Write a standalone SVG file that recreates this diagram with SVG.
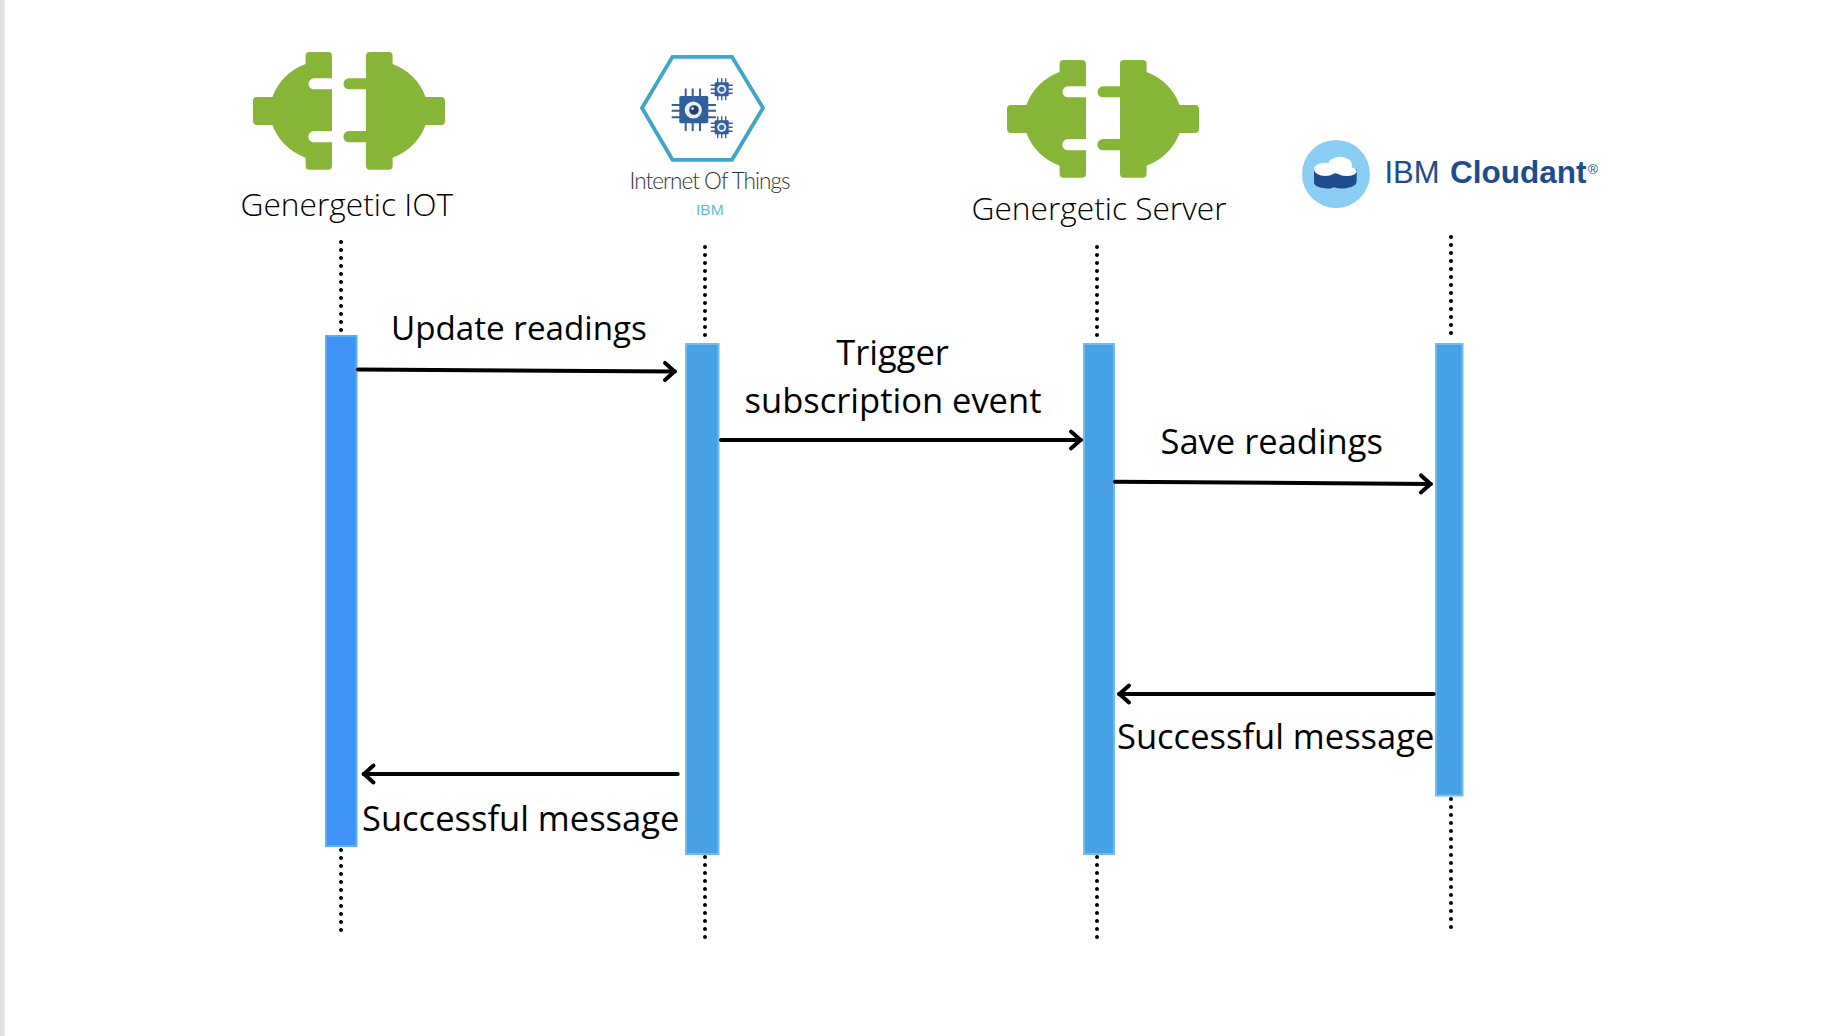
<svg xmlns="http://www.w3.org/2000/svg" xmlns:xlink="http://www.w3.org/1999/xlink" width="1844" height="1036" viewBox="0 0 1844 1036">
<style>
.msg{font-family:"Open Sans","Liberation Sans",sans-serif;font-size:34.5px;fill:#000}
.name{font-family:"Open Sans","Liberation Sans",sans-serif;font-size:31.7px;font-weight:300;fill:#000}
.life{fill:none;stroke:#000;stroke-width:4;stroke-linecap:round;stroke-dasharray:0 8}
.bar{stroke-width:2}
.b1{fill:#4094f7;stroke:#58aef7}
.b2{fill:#47a1e4;stroke:#6fbdee}
.arrow{fill:none;stroke:#000;stroke-width:4;stroke-linecap:round;marker-end:url(#head)}
.plug{fill:#87b538}
.pin{stroke:#3a5f94;fill:none}
.chipbody{fill:#2f5f9e}
</style>
<defs>
<marker id="head" markerUnits="userSpaceOnUse" viewBox="-14 -12 18 24" markerWidth="18" markerHeight="24" refX="0" refY="0" orient="auto">
<path d="M-10,-8.5 L-0.5,0 L-10,8.5" fill="none" stroke="#000" stroke-width="4" stroke-linecap="round" stroke-linejoin="round"/>
</marker>
<g id="plugs">
<path class="plug" d="M56.6,0 H75 Q79,0 79,4 V26.3 H61 A5.5 5.5 0 0 0 61,37.3 H79 V79 H61 A5.65 5.65 0 0 0 61,90.3 H79 V113.7 Q79,117.7 75,117.7 H56.6 Q52.6,117.7 52.6,113.7 V105.7 A55 55 0 0 1 19.4,73 H4 Q0,73 0,69 V49 Q0,45 4,45 H19.4 A55 55 0 0 1 52.6,12 V4 Q52.6,0 56.6,0 Z"/>
<path class="plug" d="M113,4 Q113,0 117,0 H135.6 Q139.6,0 139.6,4 V12 A55 55 0 0 1 172.6,45 H188 Q192,45 192,49 V69 Q192,73 188,73 H172.6 A55 55 0 0 1 139.6,105.7 V113.7 Q139.6,117.7 135.6,117.7 H117 Q113,117.7 113,113.7 V90.3 H96 A5.65 5.65 0 0 1 96,79 H113 V37.3 H96 A5.5 5.5 0 0 1 96,26.3 H113 Z"/>
</g>
<g id="minichip">
<path class="pin" stroke-width="1.4" d="M-4,-11 V11 M0,-11 V11 M4,-11 V11 M-11,-4 H11 M-11,0 H11 M-11,4 H11"/>
<rect class="chipbody" x="-7" y="-7" width="14" height="14" rx="1"/>
<circle r="4.6" fill="#dfe8f2"/>
<circle r="2.6" fill="#3a6aa6"/>
</g>
</defs>
<rect x="0" y="0" width="1844" height="1036" fill="#fff"/>
<rect id="page-edge" x="0" y="0" width="4.6" height="1036" fill="#e3e3e3"/>

<g id="lifelines">
<path class="life" d="M341,242 V331"/>
<path class="life" d="M341,850 V931"/>
<path class="life" d="M705,247 V337"/>
<path class="life" d="M705,857 V938"/>
<path class="life" d="M1097,247 V336"/>
<path class="life" d="M1097,857 V938"/>
<path class="life" d="M1451,237 V334"/>
<path class="life" d="M1451,799 V928"/>
</g>

<g id="node-iot">
<use xlink:href="#plugs" href="#plugs" x="253" y="52"/>
<text class="name" x="240.5" y="216">Genergetic IOT</text>
<rect class="bar b1" x="326" y="336" width="30.5" height="510"/>
</g>

<g id="node-ibm-iot">
<path d="M642,108 L672.5,56.8 H732 L763,108 L732,159.8 H672.5 Z" fill="#fff" stroke="#40a6c9" stroke-width="3.8" stroke-linejoin="miter"/>
<path class="pin" stroke-width="2" d="M685.7,88.5 V131 M692.7,88.5 V131 M700,88.5 V131 M671.7,105 H716 M671.7,110.7 H716 M671.7,117.3 H716"/>
<rect class="chipbody" x="679.3" y="96" width="29" height="27.3" rx="1.5"/>
<circle cx="693.3" cy="110" r="8.6" fill="#e9eff6"/>
<circle cx="694" cy="110" r="4.8" fill="#22406e"/>
<circle cx="692.5" cy="108.5" r="1.3" fill="#fff"/>
<use xlink:href="#minichip" href="#minichip" x="721.7" y="89.3"/>
<use xlink:href="#minichip" href="#minichip" x="721.7" y="127.3"/>
<text x="629.5" y="188.5" font-family="Lato,'Liberation Sans',sans-serif" font-weight="300" font-size="22.5" letter-spacing="-0.95" fill="#333">Internet Of Things</text>
<text x="696" y="215" font-family="'Liberation Sans',sans-serif" font-size="15.5" fill="#5cc0dc">IBM</text>
<rect class="bar b2" x="686" y="344" width="32.5" height="510"/>
</g>

<g id="node-server">
<use xlink:href="#plugs" href="#plugs" x="1007" y="60"/>
<text class="name" x="971.5" y="220">Genergetic Server</text>
<rect class="bar b2" x="1084" y="344" width="30" height="510"/>
</g>

<g id="node-cloudant">
<circle cx="1336" cy="174" r="34" fill="#8acef3"/>
<g transform="translate(1290,130) scale(0.3333)">
<path fill="#1f4c8c" d="M72,118 V158 Q72,170 105,175 Q120,178 132,172 Q150,178 170,174 Q200,170 200,154 V118 Z"/>
<ellipse cx="106" cy="118" rx="34" ry="20" fill="#fff"/>
<ellipse cx="150" cy="106" rx="36" ry="26" fill="#fff"/>
<ellipse cx="170" cy="124" rx="30" ry="14" fill="#fff"/>
</g>
<text x="1384.5" y="183" font-family="'Liberation Sans',sans-serif" font-size="31" fill="#1f4c8c">IBM</text>
<text x="1450" y="183" font-family="'Liberation Sans',sans-serif" font-size="31.5" font-weight="700" fill="#1f4c8c">Cloudant</text>
<text x="1588" y="174" font-family="'Liberation Sans',sans-serif" font-size="13.5" fill="#1f4c8c">®</text>
<rect class="bar b2" x="1436" y="344" width="26.5" height="451.5"/>
</g>

<g id="connectors">
<path class="arrow" d="M358,369.5 L675,371.5"/>
<path class="arrow" d="M721,440 L1081,440"/>
<path class="arrow" d="M1115,481.7 L1431,484"/>
<path class="arrow" d="M1433.7,694 L1119,694"/>
<path class="arrow" d="M677.7,774 L363.5,774"/>
</g>

<g id="labels">
<text class="msg" x="391" y="339.5" style="font-size:33.2px">Update readings</text>
<text class="msg" x="892.5" y="365" text-anchor="middle">Trigger</text>
<text class="msg" x="893" y="412.7" text-anchor="middle">subscription event</text>
<text class="msg" x="1160.5" y="453.5">Save readings</text>
<text class="msg" x="1117" y="749">Successful message</text>
<text class="msg" x="362" y="830.7">Successful message</text>
</g>
</svg>
